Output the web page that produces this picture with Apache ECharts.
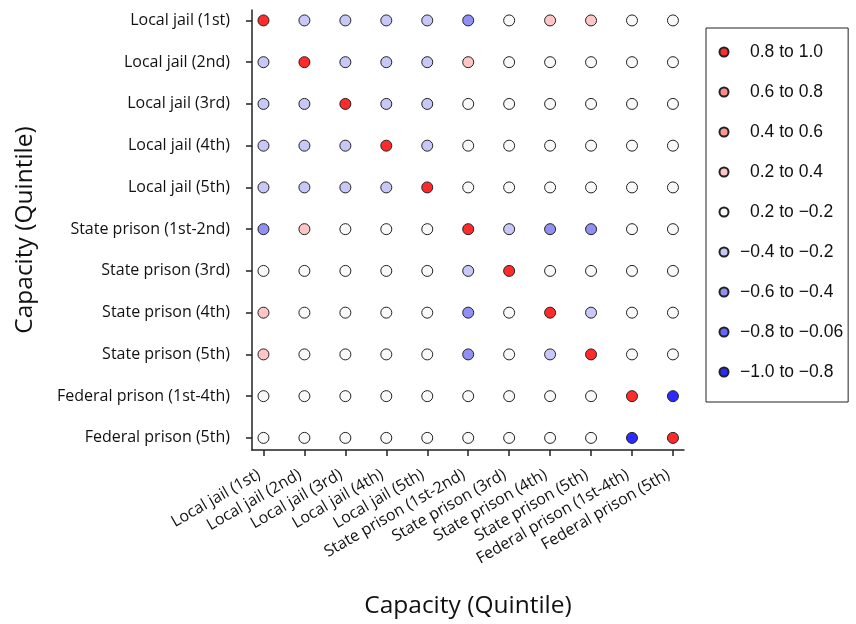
<!DOCTYPE html>
<html><head><meta charset="utf-8">
<script src="https://cdn.jsdelivr.net/npm/echarts@6/dist/echarts.min.js"></script>
<style>html,body{margin:0;padding:0;background:#fff}#c{width:856px;height:624px}</style>
</head><body><div id="c"></div><script>
// Categories (same for both axes)
const categories = [
  'Local jail (1st)', 'Local jail (2nd)', 'Local jail (3rd)', 'Local jail (4th)', 'Local jail (5th)',
  'State prison (1st-2nd)', 'State prison (3rd)', 'State prison (4th)', 'State prison (5th)',
  'Federal prison (1st-4th)', 'Federal prison (5th)'
];
// Correlation values, one array per row (row = y category, column = x category)
const rowLocalJail1 = [1.0, -0.3, -0.3, -0.3, -0.3, -0.5, 0.0, 0.3, 0.3, 0.0, 0.0];
const rowLocalJail2 = [-0.3, 1.0, -0.3, -0.3, -0.3, 0.3, 0.0, 0.0, 0.0, 0.0, 0.0];
const rowLocalJail3 = [-0.3, -0.3, 1.0, -0.3, -0.3, 0.0, 0.0, 0.0, 0.0, 0.0, 0.0];
const rowLocalJail4 = [-0.3, -0.3, -0.3, 1.0, -0.3, 0.0, 0.0, 0.0, 0.0, 0.0, 0.0];
const rowLocalJail5 = [-0.3, -0.3, -0.3, -0.3, 1.0, 0.0, 0.0, 0.0, 0.0, 0.0, 0.0];
const rowState12 = [-0.5, 0.3, 0.0, 0.0, 0.0, 1.0, -0.3, -0.5, -0.5, 0.0, 0.0];
const rowState3 = [0.0, 0.0, 0.0, 0.0, 0.0, -0.3, 1.0, 0.0, 0.0, 0.0, 0.0];
const rowState4 = [0.3, 0.0, 0.0, 0.0, 0.0, -0.5, 0.0, 1.0, -0.3, 0.0, 0.0];
const rowState5 = [0.3, 0.0, 0.0, 0.0, 0.0, -0.5, 0.0, -0.3, 1.0, 0.0, 0.0];
const rowFederal14 = [0.0, 0.0, 0.0, 0.0, 0.0, 0.0, 0.0, 0.0, 0.0, 1.0, -0.9];
const rowFederal5 = [0.0, 0.0, 0.0, 0.0, 0.0, 0.0, 0.0, 0.0, 0.0, -0.9, 1.0];
const rows = [rowLocalJail1, rowLocalJail2, rowLocalJail3, rowLocalJail4, rowLocalJail5,
  rowState12, rowState3, rowState4, rowState5, rowFederal14, rowFederal5];

// Legend bins
const binLabels = ['0.8 to 1.0', '0.6 to 0.8', '0.4 to 0.6', '0.2 to 0.4', '0.2 to \u22120.2',
  '\u22120.4 to \u22120.2', '\u22120.6 to \u22120.4', '\u22120.8 to \u22120.06', '\u22121.0 to \u22120.8'];
const binMin = [0.8, 0.6, 0.4, 0.2, -0.2, -0.4, -0.6, -0.8, -1.01];
const binColors = ['#FF2B2B', '#FF8A8A', '#FF9595', '#FFC6C6', '#F8F9FB',
  '#C8C8F8', '#9090F4', '#6464FF', '#2B2BFF'];

const tickIdx = categories.map((c, i) => i);
const binData = binLabels.map(() => []);
rows.forEach((row, yi) => row.forEach((v, xi) => {
  let b = binMin.findIndex(m => v >= m);
  if (b < 0) b = binMin.length - 1;
  binData[b].push([xi, yi, v]);
}));

const axisCol = '#222';
const labelFont = '"Open Sans", "Noto Sans", sans-serif';
const legFont = '"Liberation Sans", Arial, sans-serif';
const chart = echarts.init(document.getElementById('c'), null, {renderer: 'canvas'});
chart.setOption({
  animation: false,
  backgroundColor: '#fff',
  grid: {left: 252, right: 172, top: 10, bottom: 172, containLabel: false},
  xAxis: {
    type: 'value', min: -0.28, max: 10.27,
    name: 'Capacity (Quintile)', nameLocation: 'middle', nameGap: 144,
    nameTextStyle: {fontFamily: labelFont, fontSize: 24.5, color: '#111'},
    axisLine: {show: true, onZero: false, lineStyle: {color: axisCol, width: 1.5}},
    axisTick: {show: true, customValues: tickIdx, length: 6, lineStyle: {color: axisCol, width: 1.5}},
    axisLabel: {customValues: tickIdx, rotate: 30, margin: 21, padding: [0, 5, 0, 0],
      fontFamily: labelFont, fontSize: 16, color: '#111',
      formatter: v => categories[Math.round(v)] || ''},
    splitLine: {show: false}
  },
  yAxis: {
    type: 'value', inverse: true, min: -0.25, max: 10.29,
    name: 'Capacity (Quintile)', nameLocation: 'middle', nameGap: 214,
    nameTextStyle: {fontFamily: labelFont, fontSize: 24.5, color: '#111'},
    axisLine: {show: true, onZero: false, lineStyle: {color: axisCol, width: 1.5}},
    axisTick: {show: true, customValues: tickIdx, length: 6, lineStyle: {color: axisCol, width: 1.5}},
    axisLabel: {customValues: tickIdx, margin: 22, fontFamily: labelFont, fontSize: 16, color: '#111',
      formatter: v => categories[Math.round(v)] || ''},
    splitLine: {show: false}
  },
  legend: {
    orient: 'vertical', left: 706, top: 28,
    data: binLabels, selectedMode: false,
    icon: 'circle', itemWidth: 9, itemHeight: 9, itemGap: 20,
    padding: [14, 5, 20, 12.5],
    borderColor: '#222', borderWidth: 1,
    formatter: name => (name.charAt(0) === '\u2212' ? '{n|' + name + '}' : '{p|' + name + '}'),
    textStyle: {
      fontFamily: legFont, fontSize: 17.5, lineHeight: 20, color: '#111',
      rich: {
        n: {fontFamily: legFont, fontSize: 17.5, lineHeight: 20, color: '#111', padding: [0, 0, 0, 6.5]},
        p: {fontFamily: legFont, fontSize: 17.5, lineHeight: 20, color: '#111', padding: [0, 0, 0, 16.5]}
      }
    }
  },
  series: binLabels.map((name, i) => ({
    name: name,
    type: 'scatter',
    symbol: 'circle',
    symbolSize: 11,
    data: binData[i],
    itemStyle: {color: binColors[i], borderColor: '#222', borderWidth: 1, opacity: 1}
  }))
});
</script></body></html>
